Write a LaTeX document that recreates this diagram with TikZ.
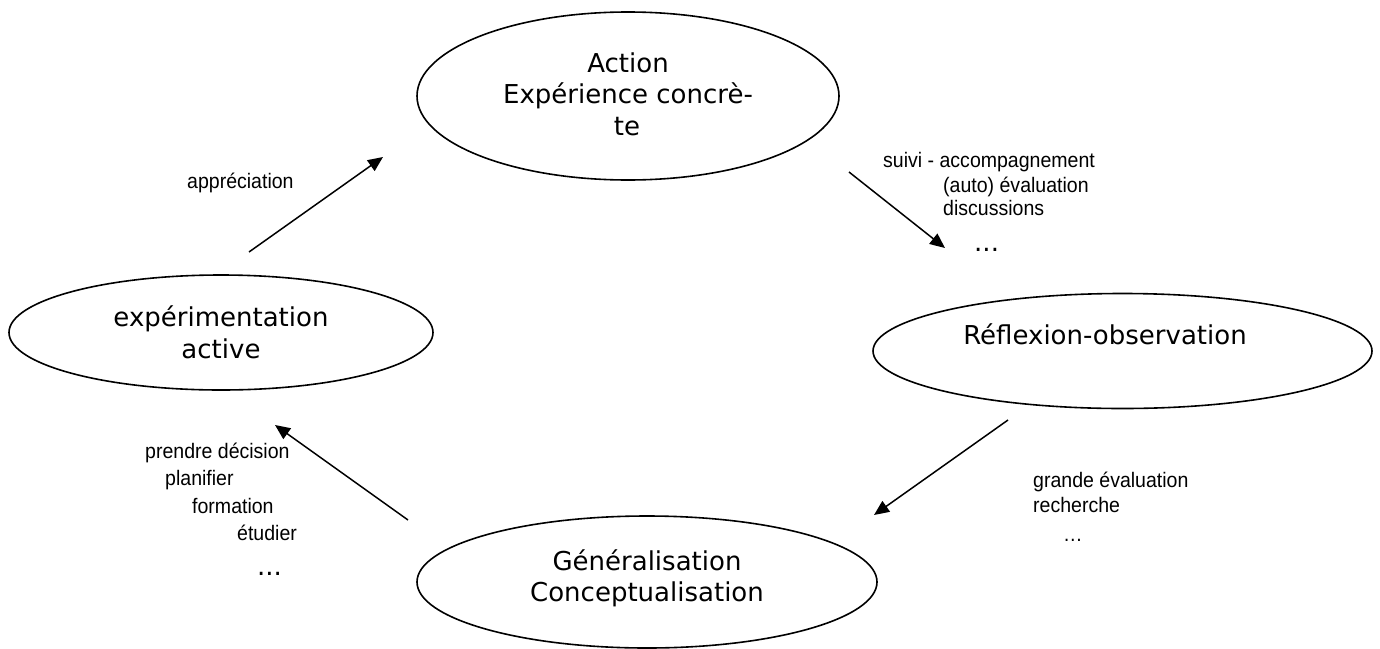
\documentclass[tikz,border=0pt]{standalone}
\usepackage{fontspec}
\setmainfont{DejaVu Sans}
\newfontfamily\lblfont[FakeStretch=0.93]{Liberation Sans}
\usetikzlibrary{shapes.geometric,arrows.meta}

\begin{document}
\begin{tikzpicture}[x=1pt,y=-1pt,
  stage/.style={draw, ellipse, line width=1.6pt, inner sep=0pt},
  stagetext/.style={anchor=base, inner sep=0pt, font=\fontsize{26}{31}\selectfont},
  note/.style={anchor=base west, inner sep=0pt, font=\lblfont\fontsize{21}{24}\selectfont},
  bigdots/.style={anchor=base west, inner sep=0pt, font=\fontsize{26}{31}\selectfont},
  flow/.style={line width=1.5pt, -{Triangle[length=15pt,width=13pt]}}]

% page
\fill[white] (0,0) rectangle (1380,648);
\useasboundingbox (0,0) rectangle (1380,648);

% the four stages of the cycle
\node[stage, minimum width=422pt, minimum height=168pt] (act)  at (628,96) {};
\node[stage, minimum width=499pt, minimum height=115pt] (refl) at (1122.5,351) {};
\node[stage, minimum width=460pt, minimum height=132pt] (gen)  at (647,582) {};
\node[stage, minimum width=424pt, minimum height=115pt] (exp)  at (221,332.5) {};

% stage titles
\node[stagetext] (actA) at (628,72)  {Action};
\node[stagetext] (actB) at (628,103) {Expérience concrè-};
\node[stagetext] (actC) at (627,135) {te};
\node[stagetext] (reflA) at (1105,344) {Réflexion-observation};
\node[stagetext] (genA) at (647,570) {Généralisation};
\node[stagetext] (genB) at (647,601) {Conceptualisation};
\node[stagetext] (expA) at (221,326) {expérimentation};
\node[stagetext] (expB) at (221,358) {active};

% arrow end points
\coordinate (a1s) at (249,252);  \coordinate (a1e) at (383,157);
\coordinate (a2s) at (849,172);  \coordinate (a2e) at (945,248);
\coordinate (a3s) at (1008,420); \coordinate (a3e) at (874,515);
\coordinate (a4s) at (408,520);  \coordinate (a4e) at (275,425);

\draw[flow] (a1s) -- (a1e);
\draw[flow] (a2s) -- (a2e);
\draw[flow] (a3s) -- (a3e);
\draw[flow] (a4s) -- (a4e);

% notes along the arrows
\node[note] (n1) at (187,188) {appréciation};

\node[note] (n2a) at (883,167) {suivi - accompagnement};
\node[note] (n2b) at (943,192) {(auto) évaluation};
\node[note] (n2c) at (943,215) {discussions};
\node[bigdots] (n2d) at (974,251) {...};

\node[note] (n3a) at (1033,487) {grande évaluation};
\node[note] (n3b) at (1033,512) {recherche};
\node[note] (n3c) at (1063,541) {…};

\node[note] (n4a) at (145,458) {prendre décision};
\node[note] (n4b) at (165,485) {planifier};
\node[note] (n4c) at (192,513) {formation};
\node[note] (n4d) at (237,540) {étudier};
\node[bigdots] (n4e) at (257,575) {...};
\end{tikzpicture}
\end{document}
